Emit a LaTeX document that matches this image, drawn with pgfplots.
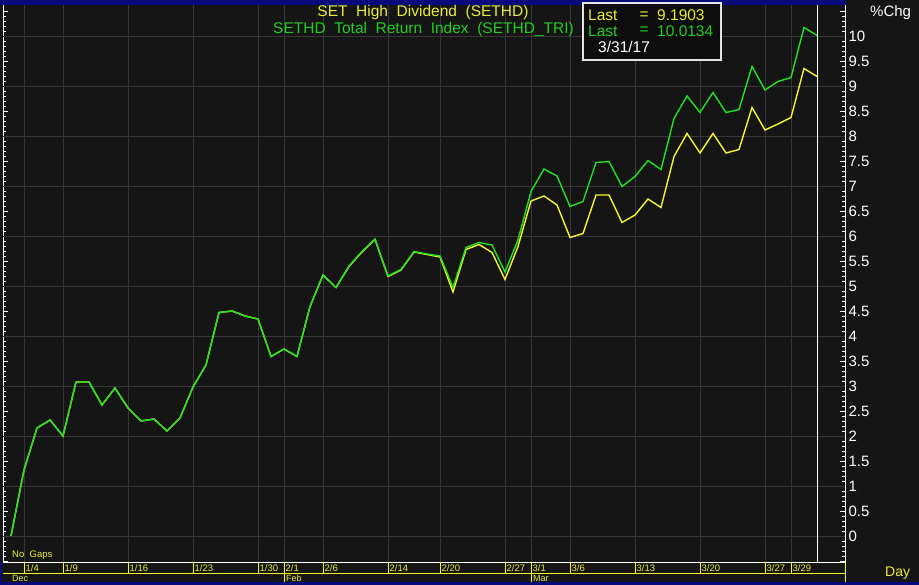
\documentclass[border=0pt]{standalone}
\usepackage{fontspec}
\setmainfont{Liberation Sans}
\usepackage{pgfplots}
\pgfplotsset{compat=1.18}
\usepackage{pgfplotstable}
\definecolor{bg}{RGB}{21,21,21}
\definecolor{gridc}{RGB}{54,54,54}
\definecolor{navy}{RGB}{10,10,125}
\definecolor{lgreen}{RGB}{34,226,34}
\definecolor{lyellow}{RGB}{246,246,46}
\definecolor{tgreen}{RGB}{34,206,34}
\definecolor{tyellow}{RGB}{236,236,52}

\pgfplotstableread{
idx tri set
0 0.00 0.00
1 1.32 1.32
2 2.16 2.16
3 2.32 2.32
4 2.00 2.00
5 3.08 3.08
6 3.08 3.08
7 2.62 2.62
8 2.96 2.96
9 2.56 2.56
10 2.30 2.30
11 2.34 2.34
12 2.10 2.10
13 2.36 2.36
14 2.98 2.98
15 3.42 3.42
16 4.47 4.47
17 4.50 4.50
18 4.40 4.40
19 4.34 4.34
20 3.59 3.59
21 3.74 3.74
22 3.59 3.59
23 4.59 4.59
24 5.22 5.22
25 4.97 4.97
26 5.40 5.39
27 5.69 5.68
28 5.94 5.93
29 5.20 5.19
30 5.33 5.32
31 5.69 5.68
32 5.64 5.63
33 5.60 5.58
34 4.97 4.88
35 5.77 5.73
36 5.87 5.83
37 5.82 5.67
38 5.28 5.13
39 5.92 5.79
40 6.89 6.70
41 7.34 6.80
42 7.20 6.62
43 6.59 5.97
44 6.69 6.05
45 7.47 6.82
46 7.49 6.82
47 6.99 6.27
48 7.19 6.42
49 7.51 6.74
50 7.33 6.57
51 8.35 7.59
52 8.80 8.05
53 8.47 7.66
54 8.87 8.05
55 8.47 7.66
56 8.53 7.73
57 9.39 8.57
58 8.92 8.12
59 9.09 8.24
60 9.17 8.37
61 10.17 9.35
62 10.0134 9.1903
}\data

\begin{document}
\begin{tikzpicture}
\begin{scope}[x=1pt,y=-1pt]
\fill[bg] (0,0) rectangle (919,585);
\end{scope}
\begin{axis}[
  at={(3pt,-562pt)}, anchor=south west,
  x=13pt, y=50pt,
  xmin=-0.615385, xmax=64.153846,
  ymin=-0.52, ymax=10.64,
  axis background/.style={fill=bg},
  axis line style={white, line width=0.8pt},
  xtick={1,4,9,14,19,21,24,29,33,38,40,43,48,53,58,60},
  xticklabels={},
  xtick style={draw=none},
  xmajorgrids,
  grid style={gridc, line width=0.8pt},
  ytick={-0.5,0,...,10.5},
  yticklabels={,0,0.5,1,1.5,2,2.5,3,3.5,4,4.5,5,5.5,6,6.5,7,7.5,8,8.5,9,9.5,10,},
  ytick pos=both,
  yticklabel pos=right,
  yticklabel style={white, font=\fontsize{15}{15}\selectfont, anchor=west, xshift=0pt},
  /pgf/number format/assume math mode=true,
  major tick length=5pt, minor tick length=3pt,
  minor y tick num=4,
  tick style={white, line width=0.8pt},
  extra y ticks={0,1,...,10},
  extra y tick labels={},
  extra y tick style={grid=major, major tick length=0pt},
]
\draw[white, line width=0.9pt] (axis cs:62,-0.52) -- (axis cs:62,10.64);
\addplot[lyellow, line width=1.4pt, mark=none] table[x=idx, y=set]{\data};
\addplot[lgreen, line width=1.4pt, mark=none] table[x=idx, y=tri]{\data};
\end{axis}
\begin{scope}[x=1pt,y=-1pt]
\fill[navy] (0,0) rectangle (845.6,5.2);
\fill[navy] (0,582) rectangle (919,585);
\fill[navy] (0,562) rectangle (2,585);
% date band
\draw[lyellow, line width=0.8pt] (3,573) -- (845,573);
\draw[lyellow, line width=0.8pt] (845,562) -- (845,582);
\foreach \i in {1,4,9,14,19,21,24,29,33,38,40,43,48,53,58,60} {
  \draw[lyellow, line width=0.8pt] ({11+13*\i},562) -- ({11+13*\i},573);
}
\draw[lyellow, line width=0.8pt] (284,573) -- (284,582);
\draw[lyellow, line width=0.8pt] (531,573) -- (531,582);
\foreach \i/\t in {1/1\slash 4,4/1\slash 9,9/1\slash 16,14/1\slash 23,19/1\slash 30,21/2\slash 1,24/2\slash 6,29/2\slash 14,33/2\slash 20,38/2\slash 27,40/3\slash 1,43/3\slash 6,48/3\slash 13,53/3\slash 20,58/3\slash 27,60/3\slash 29} {
  \node[anchor=west, inner sep=0pt, text=tyellow, font=\fontsize{9.5}{9.5}\selectfont] at ({11+13*\i+1.5},568.5) {\t};
}
\node[anchor=west, inner sep=0pt, text=tyellow, font=\fontsize{9}{9}\selectfont] at (12,578.5) {Dec};
\node[anchor=west, inner sep=0pt, text=tyellow, font=\fontsize{9}{9}\selectfont] at (286,578.5) {Feb};
\node[anchor=west, inner sep=0pt, text=tyellow, font=\fontsize{9}{9}\selectfont] at (533,578.5) {Mar};
\node[anchor=west, inner sep=0pt, text=tyellow, font=\fontsize{9.5}{9.5}\selectfont] at (12,555.5) {No\ \ Gaps};
\node[anchor=west, inner sep=0pt, text=tyellow, font=\fontsize{14}{14}\selectfont] at (885,573) {Day};
\node[anchor=west, inner sep=0pt, text=white, font=\fontsize{15}{15}\selectfont] at (870,13) {\%Chg};
% legend titles
\node[inner sep=0pt, text=tyellow, font=\fontsize{15.5}{15.5}\selectfont] at (423,12.5) {SET\ \ High\ \ Dividend\ \ (SETHD)};
\node[inner sep=0pt, text=tgreen, font=\fontsize{15.5}{15.5}\selectfont] at (423.5,29) {SETHD\ \ Total\ \ Return\ \ Index\ \ (SETHD\_TRI)};
% value box
\fill[black!95] (582,2) rectangle (722,61);
\draw[white!80!gray, line width=1.6pt] (582.8,2.8) rectangle (721.2,60.2);
\node[anchor=west, inner sep=0pt, text=tyellow, font=\fontsize{15.5}{15.5}\selectfont] at (588,15.5) {Last};
\node[anchor=west, inner sep=0pt, text=tyellow, font=\fontsize{15.5}{15.5}\selectfont] at (639.5,15.5) {=};
\node[anchor=west, inner sep=0pt, text=tyellow, font=\fontsize{15.5}{15.5}\selectfont] at (657,15.5) {9.1903};
\node[anchor=west, inner sep=0pt, text=tgreen, font=\fontsize{15.5}{15.5}\selectfont] at (588,31) {Last};
\node[anchor=west, inner sep=0pt, text=tgreen, font=\fontsize{15.5}{15.5}\selectfont] at (639.5,31) {=};
\node[anchor=west, inner sep=0pt, text=tgreen, font=\fontsize{15.5}{15.5}\selectfont] at (657,31) {10.0134};
\node[anchor=west, inner sep=0pt, text=white, font=\fontsize{15.5}{15.5}\selectfont] at (598,46.5) {3/31/17};
\end{scope}
\pgfresetboundingbox
\useasboundingbox (0pt,0pt) rectangle (919pt,-585pt);
\end{tikzpicture}
\end{document}
